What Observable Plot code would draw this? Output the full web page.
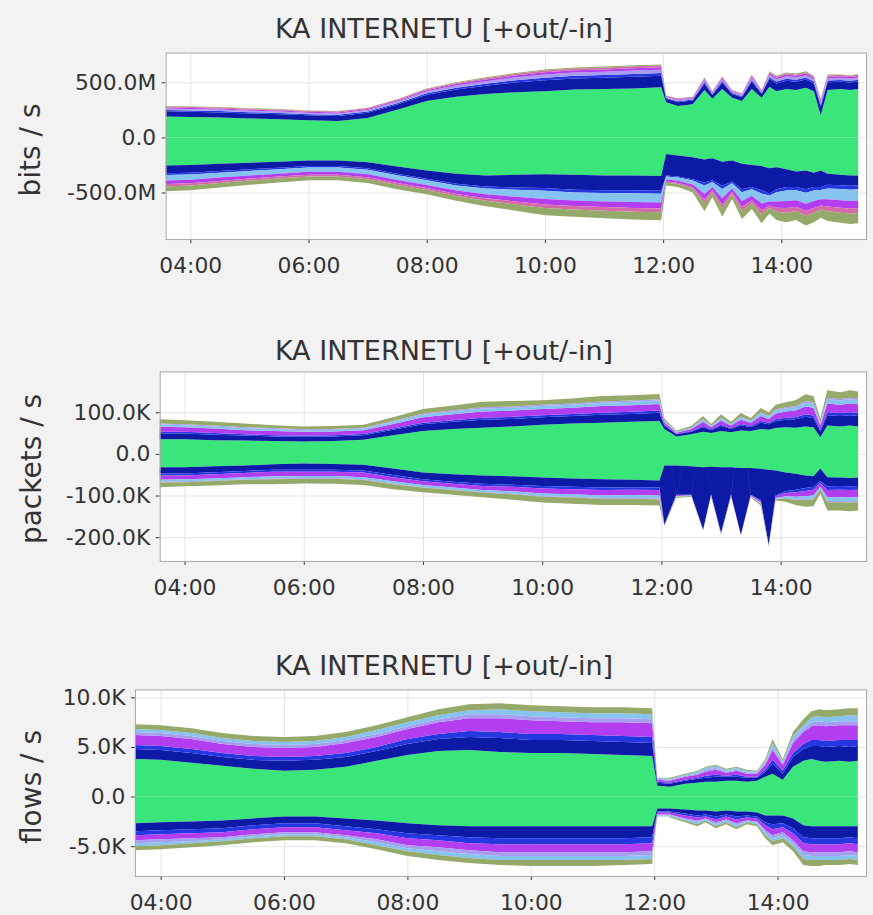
<!DOCTYPE html>
<html><head><meta charset="utf-8">
<script src="https://cdn.jsdelivr.net/npm/d3@7"></script>
<script src="https://cdn.jsdelivr.net/npm/@observablehq/plot@0.6"></script>
<style>
body{margin:0;background:#f2f2f2;}
#wrap{position:relative;width:873px;height:915px;overflow:hidden;background:#f2f2f2;font-family:"DejaVu Sans",sans-serif;color:#333;}
.panel{position:absolute;left:0;}
.title{position:absolute;transform:translate(-50%,-50%);white-space:nowrap;font-size:27px;color:#333;z-index:2;}
.ylab{position:absolute;transform:translate(-50%,-50%) rotate(-90deg);white-space:nowrap;font-size:28px;color:#333;z-index:2;}
</style></head>
<body><div id="wrap"></div>
<script>
// ---------- shared time axis ----------
const times = ["03:35","04:00","04:30","05:00","05:30","06:00","06:30","07:00","07:30","08:00","08:30","09:00","09:30","10:00","10:30","11:00","11:30","11:58","12:03","12:15","12:30","12:42","12:50","13:00","13:10","13:20","13:30","13:40","13:48","13:55","14:05","14:15","14:25","14:33","14:40","14:47","15:00","15:10","15:18"];
const xStart = "03:35", xEnd = "15:26";
const xTicks = ["04:00","06:00","08:00","10:00","12:00","14:00"];
const titleText = "KA INTERNETU [+out/-in]";

// ---------- layer keys and colours ----------
const layerKeys   = ["green","navy","blue","violet","lav","sky","pink","olive"];
const layerColors = ["#3ae67a","#0c1aa5","#2437e0","#b23ef0","#a89df0","#86c3ef","#d46aa8","#94a96a"];

// ---------- panel 1: bits / s (values in Mbit/s) ----------
const p1YTicks = [500, 0, -500];
const p1YLabels = ["500.0M","0.0","-500.0M"];
const p1OutGreen  = [190,185,180,172,165,155,150,175,250,330,370,395,410,420,435,440,445,455,320,285,300,430,350,440,360,330,440,360,460,420,440,430,450,420,200,430,440,430,440];
const p1OutNavy   = [47,48,47,46,46,45,44,48,48,57,65,75,88,98,100,102,105,104,30,35,35,58,35,57,35,35,66,35,70,70,75,75,75,70,75,70,66,68,68];
const p1OutBlue   = [11,11,12,11,11,11,11,11,12,14,16,18,21,24,24,24,25,25,7,8,8,14,8,14,8,8,16,8,17,17,18,18,18,17,18,17,16,16,16];
const p1OutLav    = [14,14,14,14,14,13,13,14,15,17,20,22,26,30,30,31,32,31,9,11,11,17,11,17,11,11,20,11,21,21,22,22,22,21,22,21,20,20,20];
const p1OutViolet = [9,10,10,9,9,9,9,10,10,12,13,15,17,20,20,20,21,21,6,7,7,11,7,11,7,7,13,7,14,14,15,15,15,14,15,14,13,14,14];
const p1OutPink   = [8,8,8,8,7,7,7,8,8,9,10,12,14,16,16,16,17,16,5,6,6,9,6,9,6,6,11,6,11,11,12,12,12,11,12,11,11,11,11];
const p1OutOlive  = [5,4,4,5,5,5,5,4,4,6,6,8,9,9,10,11,10,10,3,3,3,6,3,6,3,3,6,3,7,7,8,8,8,7,8,7,6,6,6];
const p1InGreen   = [255,250,240,230,220,210,210,225,265,300,330,345,340,335,340,345,345,350,150,165,180,200,190,220,210,240,250,260,280,270,290,310,300,320,300,330,340,345,345];
const p1InNavy    = [70,70,65,60,55,50,50,55,65,75,90,100,115,125,135,135,135,135,195,190,200,210,200,220,190,230,200,220,230,200,160,140,170,130,150,100,95,95,92];
const p1InBlue    = [16,16,15,14,14,13,13,14,14,14,16,18,21,25,25,25,27,27,9,10,12,26,15,28,16,27,20,30,18,28,32,30,33,32,28,33,34,35,34];
const p1InSky     = [50,48,45,42,40,39,39,40,42,42,46,54,63,74,73,76,80,80,28,28,36,78,45,84,48,81,60,90,54,84,96,90,99,96,84,99,102,103,103];
const p1InViolet  = [33,32,30,28,27,26,26,27,28,28,31,36,42,49,49,51,53,53,18,19,24,52,30,56,32,54,40,60,36,56,64,60,66,64,56,66,68,69,68];
const p1InPink    = [21,21,20,18,18,17,17,18,18,19,20,23,27,32,32,33,34,35,12,12,16,34,20,36,21,35,26,39,23,36,42,39,43,42,36,43,44,45,44];
const p1InOlive   = [44,43,40,38,36,35,35,36,38,38,42,48,57,67,66,69,71,72,25,26,32,70,40,76,43,73,54,81,49,76,86,81,89,86,76,89,92,93,93];

// ---------- panel 2: packets / s (values in K) ----------
const p2YTicks = [100, 0, -100, -200];
const p2YLabels = ["100.0K","0.0","-100.0K","-200.0K"];
const p2OutGreen  = [35,35,33,32,31,30,31,34,45,55,60,63,66,70,73,75,77,79,60,42,47,53,50,55,52,56,55,60,58,62,64,63,66,64,40,68,66,68,66];
const p2OutNavy   = [14,14,13,12,11,11,11,11,13,16,17,19,18,18,18,19,19,20,8,5,6,11,7,12,8,13,9,15,13,17,18,20,23,22,14,25,25,25,25];
const p2OutBlue   = [4,4,4,3,3,3,3,3,3,4,4,5,5,5,5,5,5,5,2,1,2,3,2,3,2,3,3,4,3,4,5,5,6,6,4,7,7,7,7];
const p2OutViolet = [12,11,11,10,10,9,9,9,11,13,14,15,15,15,15,16,16,16,6,3,5,10,5,10,6,10,8,12,10,14,15,16,19,19,11,21,20,21,21];
const p2OutSky    = [6,5,5,5,5,4,4,4,5,6,7,7,7,7,7,8,8,8,3,2,2,5,3,5,3,5,4,6,5,7,7,8,9,9,5,10,10,10,10];
const p2OutLav    = [2,2,2,2,2,2,2,2,2,3,3,3,3,3,3,3,3,3,1,1,1,2,1,2,1,2,1,3,2,3,3,3,4,4,2,4,4,4,4];
const p2OutOlive  = [10,10,9,9,7,7,7,7,9,11,11,13,13,11,12,13,13,13,5,2,4,7,4,8,5,9,6,10,9,11,12,14,16,15,9,18,16,18,17];
const p2InGreen   = [32,32,30,28,25,23,24,26,35,45,49,52,54,57,59,61,62,64,28,28,30,32,31,32,32,34,34,36,38,40,45,48,52,54,35,56,57,58,57];
const p2InNavy    = [15,15,14,13,13,15,14,14,16,16,18,20,20,20,20,20,18,16,142,70,68,150,66,158,66,160,64,75,180,60,45,38,30,25,30,22,20,20,20];
const p2InBlue    = [5,5,5,5,5,5,5,5,5,5,5,5,5,6,6,6,6,7,1,1,1,0,1,1,1,0,1,2,1,2,4,6,7,7,5,9,9,9,9];
const p2InViolet  = [10,9,10,10,11,10,10,11,10,9,9,10,11,12,12,13,13,13,1,2,1,1,2,1,2,1,2,4,1,4,8,11,13,14,9,17,18,18,18];
const p2InSky     = [5,5,5,5,5,5,5,5,5,5,5,5,5,6,6,6,7,7,1,1,1,0,1,1,1,0,1,2,1,2,4,6,7,7,4,9,9,9,9];
const p2InLav     = [2,2,1,1,2,2,2,2,2,1,1,1,2,2,2,2,2,2,0,1,0,0,0,0,1,0,1,1,0,1,1,2,2,2,2,3,3,3,3];
const p2InOlive   = [11,10,11,11,12,11,12,12,12,11,11,11,13,14,15,15,15,15,1,3,2,1,2,1,2,0,2,4,2,3,8,12,16,17,10,20,20,21,20];

// ---------- panel 3: flows / s (values in K) ----------
const p3YTicks = [10, 5, 0, -5];
const p3YLabels = ["10.0K","5.0K","0.0","-5.0K"];
const p3OutGreen  = [3.8,3.7,3.4,3.1,2.8,2.6,2.7,3.0,3.6,4.2,4.6,4.7,4.5,4.4,4.4,4.3,4.2,4.1,1.1,1.0,1.3,1.4,1.5,1.5,1.6,1.6,1.5,1.6,2.0,2.3,1.7,3.0,3.6,3.8,3.6,3.5,3.6,3.5,3.6];
const p3OutNavy   = [1.0,1.0,1.0,0.9,0.9,1.0,1.0,1.0,1.0,1.1,1.2,1.3,1.4,1.3,1.3,1.3,1.3,1.3,0.3,0.3,0.3,0.4,0.4,0.5,0.4,0.4,0.4,0.3,0.5,1.0,0.6,1.0,1.2,1.3,1.5,1.5,1.5,1.5,1.5];
const p3OutBlue   = [0.4,0.4,0.4,0.4,0.4,0.4,0.4,0.4,0.4,0.5,0.5,0.6,0.6,0.6,0.6,0.6,0.6,0.6,0.1,0.1,0.1,0.1,0.2,0.2,0.1,0.2,0.1,0.1,0.2,0.4,0.3,0.4,0.5,0.6,0.6,0.6,0.6,0.7,0.6];
const p3OutViolet = [1.0,1.0,1.0,0.9,0.9,0.9,0.9,1.0,1.0,1.0,1.2,1.3,1.4,1.4,1.3,1.3,1.4,1.4,0.2,0.2,0.3,0.3,0.4,0.5,0.3,0.4,0.3,0.3,0.5,1.0,0.6,1.0,1.2,1.4,1.5,1.5,1.5,1.5,1.5];
const p3OutLav    = [0.3,0.3,0.3,0.3,0.3,0.3,0.3,0.3,0.3,0.3,0.3,0.4,0.4,0.4,0.4,0.4,0.4,0.4,0.1,0.1,0.1,0.1,0.2,0.2,0.1,0.1,0.1,0.1,0.2,0.3,0.2,0.3,0.3,0.4,0.4,0.4,0.4,0.4,0.4];
const p3OutSky    = [0.3,0.3,0.3,0.3,0.3,0.3,0.3,0.3,0.4,0.4,0.4,0.4,0.5,0.5,0.5,0.5,0.5,0.5,0.1,0.1,0.1,0.2,0.2,0.2,0.2,0.2,0.2,0.1,0.2,0.4,0.2,0.4,0.4,0.5,0.5,0.5,0.5,0.6,0.6];
const p3OutOlive  = [0.5,0.5,0.5,0.5,0.5,0.5,0.5,0.5,0.5,0.5,0.6,0.6,0.6,0.6,0.6,0.6,0.6,0.6,0.0,0.1,0.1,0.1,0.1,0.1,0.1,0.1,0.1,0.1,0.2,0.4,0.2,0.4,0.6,0.6,0.7,0.7,0.7,0.7,0.7];
const p3InGreen   = [2.7,2.6,2.5,2.4,2.2,2.0,2.0,2.2,2.4,2.7,2.9,3.0,3.0,3.0,3.0,3.0,3.0,3.0,1.2,1.2,1.3,1.4,1.4,1.5,1.4,1.5,1.5,1.6,1.9,1.9,1.9,2.2,2.9,3.0,3.0,3.0,3.0,3.0,3.0];
const p3InNavy    = [0.8,0.8,0.8,0.8,0.7,0.7,0.7,0.8,0.9,1.0,1.0,1.1,1.2,1.2,1.2,1.2,1.2,1.1,0.3,0.3,0.4,0.5,0.4,0.5,0.4,0.5,0.4,0.4,0.7,0.9,0.8,1.0,1.2,1.2,1.2,1.2,1.2,1.1,1.2];
const p3InBlue    = [0.4,0.4,0.4,0.4,0.4,0.4,0.4,0.4,0.4,0.5,0.5,0.6,0.6,0.6,0.6,0.6,0.6,0.6,0.1,0.1,0.2,0.2,0.2,0.3,0.2,0.3,0.2,0.2,0.3,0.5,0.4,0.5,0.6,0.6,0.6,0.6,0.6,0.6,0.6];
const p3InViolet  = [0.5,0.5,0.5,0.5,0.5,0.5,0.5,0.5,0.6,0.7,0.7,0.7,0.8,0.8,0.8,0.8,0.8,0.8,0.2,0.2,0.3,0.3,0.2,0.3,0.3,0.4,0.3,0.3,0.5,0.6,0.5,0.7,0.8,0.8,0.8,0.8,0.8,0.8,0.8];
const p3InLav     = [0.3,0.3,0.3,0.2,0.2,0.2,0.2,0.2,0.3,0.3,0.4,0.4,0.4,0.4,0.4,0.4,0.4,0.4,0.1,0.1,0.1,0.2,0.1,0.2,0.1,0.2,0.1,0.1,0.2,0.3,0.3,0.3,0.4,0.4,0.4,0.4,0.4,0.4,0.4];
const p3InSky     = [0.3,0.3,0.2,0.2,0.2,0.2,0.2,0.2,0.3,0.3,0.4,0.4,0.4,0.4,0.4,0.4,0.4,0.4,0.1,0.1,0.1,0.2,0.1,0.2,0.2,0.2,0.1,0.2,0.3,0.3,0.3,0.3,0.4,0.4,0.4,0.4,0.4,0.4,0.4];
const p3InOlive   = [0.4,0.4,0.4,0.4,0.4,0.4,0.4,0.4,0.4,0.5,0.5,0.5,0.5,0.6,0.6,0.6,0.5,0.5,0.0,0.1,0.2,0.2,0.2,0.2,0.2,0.2,0.2,0.2,0.3,0.4,0.4,0.5,0.6,0.6,0.6,0.5,0.5,0.5,0.5];

// ---------- build ----------
const parseT = s => { const [h, m] = s.split(":").map(Number); return new Date(2000, 0, 1, h, m); };

function buildRows(outLayers, inLayers) {
  const rows = [], order = [];
  for (const [dir, layers, sign] of [["out", outLayers, 1], ["in", inLayers, -1]]) {
    for (const [key, arr] of layers) {
      const s = dir + "-" + key;
      order.push(s);
      arr.forEach((v, i) => rows.push({t: parseT(times[i]), s, k: key, v: sign * v}));
    }
  }
  return {rows, order};
}

const panels = [
  {top: 0, ml: 167, mt: 53, plotH: 188, mb: 45, domain: [-923, 770], yTicks: p1YTicks, yLabels: p1YLabels,
   ylab: "bits / s", ylabX: 30, ylabY: 150, titleY: 28,
   out: [["green",p1OutGreen],["navy",p1OutNavy],["blue",p1OutBlue],["lav",p1OutLav],["violet",p1OutViolet],["pink",p1OutPink],["olive",p1OutOlive]],
   inn: [["green",p1InGreen],["navy",p1InNavy],["blue",p1InBlue],["sky",p1InSky],["violet",p1InViolet],["pink",p1InPink],["olive",p1InOlive]]},
  {top: 300, ml: 161, mt: 72, plotH: 191, mb: 45, domain: [-257, 198], yTicks: p2YTicks, yLabels: p2YLabels,
   ylab: "packets / s", ylabX: 31, ylabY: 469, titleY: 350,
   out: [["green",p2OutGreen],["navy",p2OutNavy],["blue",p2OutBlue],["violet",p2OutViolet],["sky",p2OutSky],["lav",p2OutLav],["olive",p2OutOlive]],
   inn: [["green",p2InGreen],["navy",p2InNavy],["blue",p2InBlue],["violet",p2InViolet],["sky",p2InSky],["lav",p2InLav],["olive",p2InOlive]]},
  {top: 620, ml: 136, mt: 70, plotH: 188, mb: 37, domain: [-8.0, 10.8], yTicks: p3YTicks, yLabels: p3YLabels,
   ylab: "flows / s", ylabX: 31, ylabY: 787, titleY: 665,
   out: [["green",p3OutGreen],["navy",p3OutNavy],["blue",p3OutBlue],["violet",p3OutViolet],["lav",p3OutLav],["sky",p3OutSky],["olive",p3OutOlive]],
   inn: [["green",p3InGreen],["navy",p3InNavy],["blue",p3InBlue],["violet",p3InViolet],["lav",p3InLav],["sky",p3InSky],["olive",p3InOlive]]}
];

const wrap = document.getElementById("wrap");
for (const p of panels) {
  const {rows, order} = buildRows(p.out, p.inn);
  const xt = xTicks.map(parseT);
  const chart = Plot.plot({
    width: 880, height: p.mt + p.plotH + p.mb,
    marginLeft: p.ml, marginRight: 7, marginTop: p.mt, marginBottom: p.mb,
    style: {background: "transparent", fontFamily: "'DejaVu Sans', sans-serif", fontSize: "22px", color: "#333", overflow: "visible"},
    x: {type: "time", domain: [parseT(xStart), parseT(xEnd)], ticks: xt, tickFormat: d3.timeFormat("%H:%M"), label: null, tickSize: 4, tickPadding: 14},
    y: {domain: p.domain, ticks: p.yTicks, tickFormat: d => p.yLabels[p.yTicks.indexOf(d)], label: null, tickSize: 4, tickPadding: 6},
    color: {domain: layerKeys, range: layerColors},
    marks: [
      Plot.frame({fill: "white", stroke: "none"}),
      Plot.ruleX(xt, {stroke: "#e4e4e4"}),
      Plot.ruleY(p.yTicks, {stroke: "#e4e4e4"}),
      Plot.areaY(rows, {x: "t", y: "v", z: "s", fill: "k", order: order}),
      Plot.frame({stroke: "#a8a8a8"})
    ]
  });
  const div = document.createElement("div");
  div.className = "panel";
  div.style.top = p.top + "px";
  div.appendChild(chart);
  wrap.appendChild(div);

  const t = document.createElement("div");
  t.className = "title"; t.textContent = titleText;
  t.style.left = "444px"; t.style.top = p.titleY + "px";
  wrap.appendChild(t);

  const yl = document.createElement("div");
  yl.className = "ylab"; yl.textContent = p.ylab;
  yl.style.left = p.ylabX + "px"; yl.style.top = p.ylabY + "px";
  wrap.appendChild(yl);
}
</script></body></html>
